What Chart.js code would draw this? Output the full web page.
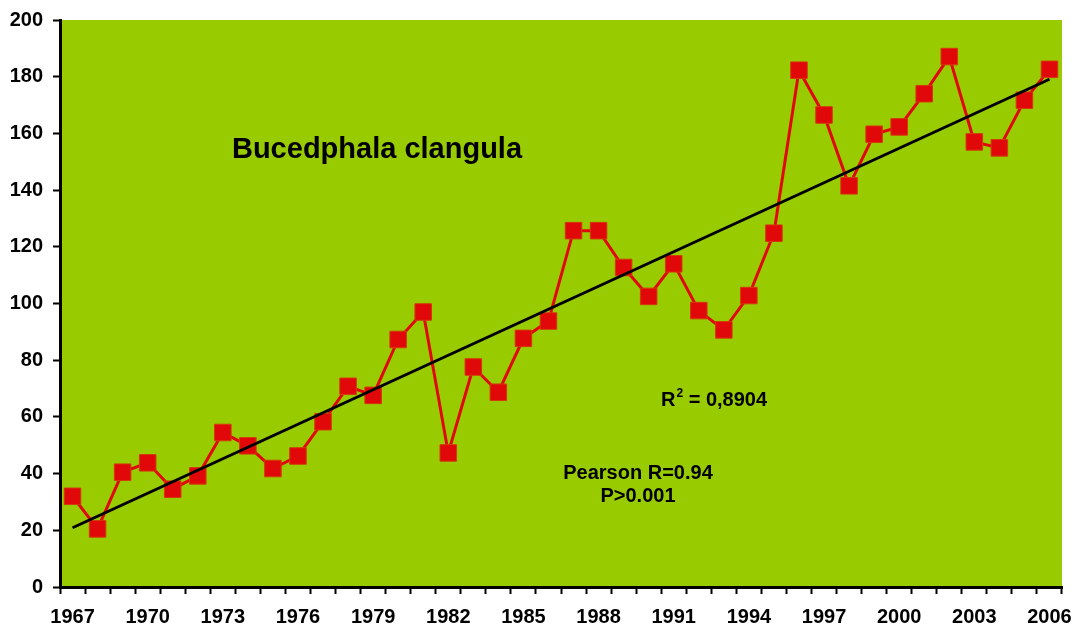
<!DOCTYPE html>
<html>
<head>
<meta charset="utf-8">
<script src="https://cdn.jsdelivr.net/npm/chart.js@4"></script>
<style>
  html, body { margin: 0; padding: 0; background: #ffffff; }
  #wrap { width: 1086px; height: 632px; }
</style>
</head>
<body>
<div id="wrap"><canvas id="chart"></canvas></div>
<script>
const years = [
  1967, 1968, 1969, 1970, 1971, 1972, 1973, 1974, 1975, 1976,
  1977, 1978, 1979, 1980, 1981, 1982, 1983, 1984, 1985, 1986,
  1987, 1988, 1989, 1990, 1991, 1992, 1993, 1994, 1995, 1996,
  1997, 1998, 1999, 2000, 2001, 2002, 2003, 2004, 2005, 2006
];
const counts = [
  32.0, 20.5, 40.5, 43.8, 34.5, 39.2, 54.5, 49.8, 41.8, 46.2,
  58.3, 70.8, 67.6, 87.3, 97.0, 47.3, 77.6, 68.7, 87.7, 93.8,
  125.7, 125.7, 112.7, 102.5, 114.0, 97.5, 90.7, 102.8, 124.8, 182.3,
  166.5, 141.5, 159.7, 162.3, 174.0, 187.1, 157.0, 154.9, 171.7, 182.6
];
// linear trend, value at first and last year
const trendEnds = [20.9, 179.1];
const yTicks = [0, 20, 40, 60, 80, 100, 120, 140, 160, 180, 200];

const trendData = years.map((y, i) =>
  i === 0 ? trendEnds[0] : (i === years.length - 1 ? trendEnds[1] : null));

const FONT = '"Liberation Sans", Arial, sans-serif';

function boldText(ctx, str, x, y, size, align) {
  ctx.font = 'bold ' + size + 'px ' + FONT;
  ctx.textAlign = align;
  ctx.textBaseline = 'middle';
  ctx.fillText(str, x, y);
  return ctx.measureText(str).width;
}

// green plot background + annotations
const plotDecor = {
  id: 'plotDecor',
  beforeDraw(chart) {
    const { ctx, chartArea: a } = chart;
    ctx.save();
    ctx.fillStyle = '#99cc00';
    ctx.fillRect(a.left, a.top, a.right - a.left, a.bottom - a.top);
    ctx.restore();
  },
  afterDatasetsDraw(chart) {
    const { ctx, chartArea: a } = chart;
    ctx.save();
    ctx.fillStyle = '#000';

    boldText(ctx, 'Bucedphala clangula', a.left + 317, a.top + 130, 29, 'center');

    boldText(ctx, 'Pearson R=0.94', a.left + 578, a.top + 453, 20, 'center');
    boldText(ctx, 'P>0.001', a.left + 578, a.top + 476, 20, 'center');

    // R² = 0,8904
    let x = a.left + 601;
    const y = a.top + 380;
    x += boldText(ctx, 'R', x, y, 20, 'left');
    x += boldText(ctx, '2', x + 1, y - 6, 12, 'left') + 1;
    boldText(ctx, ' = 0,8904', x, y, 20, 'left');
    ctx.restore();
  }
};

new Chart(document.getElementById('chart'), {
  type: 'line',
  data: {
    labels: years,
    datasets: [
      {
        label: 'trend',
        data: trendData,
        spanGaps: true,
        borderColor: '#000000',
        borderWidth: 3,
        pointRadius: 0,
        tension: 0
      },
      {
        label: 'Bucedphala clangula',
        data: counts,
        borderColor: '#e00808',
        borderWidth: 3,
        backgroundColor: '#e00808',
        pointStyle: 'rect',
        pointRadius: 11.7,
        pointBorderColor: '#d43a08',
        pointBorderWidth: 1,
        pointBackgroundColor: '#e00808',
        tension: 0
      }
    ]
  },
  options: {
    responsive: true,
    maintainAspectRatio: false,
    animation: false,
    layout: { padding: { top: 19, right: 24, bottom: 0, left: 0 } },
    plugins: {
      legend: { display: false },
      tooltip: { enabled: false }
    },
    scales: {
      x: {
        type: 'category',
        offset: true,
        afterFit(scale) { scale.height = 45; },
        border: { display: true, color: '#000', width: 3 },
        grid: {
          offset: true,
          drawOnChartArea: false,
          drawTicks: true,
          tickLength: 7,
          tickWidth: 2,
          tickColor: '#000'
        },
        ticks: {
          autoSkip: false,
          maxRotation: 0,
          padding: 11,
          color: '#000',
          font: { family: FONT, size: 20, weight: 'bold' },
          callback(value, index) {
            return index % 3 === 0 ? String(years[index]) : '';
          }
        }
      },
      y: {
        min: 0,
        max: 200,
        afterFit(scale) { scale.width = 60; },
        afterBuildTicks(scale) { scale.ticks = yTicks.map(v => ({ value: v })); },
        border: { display: true, color: '#000', width: 3 },
        grid: {
          drawOnChartArea: false,
          drawTicks: true,
          tickLength: 7,
          tickWidth: 2,
          tickColor: '#000'
        },
        ticks: {
          padding: 10,
          color: '#000',
          font: { family: FONT, size: 20, weight: 'bold', lineHeight: 1 }
        }
      }
    }
  },
  plugins: [plotDecor]
});
</script>
</body>
</html>
